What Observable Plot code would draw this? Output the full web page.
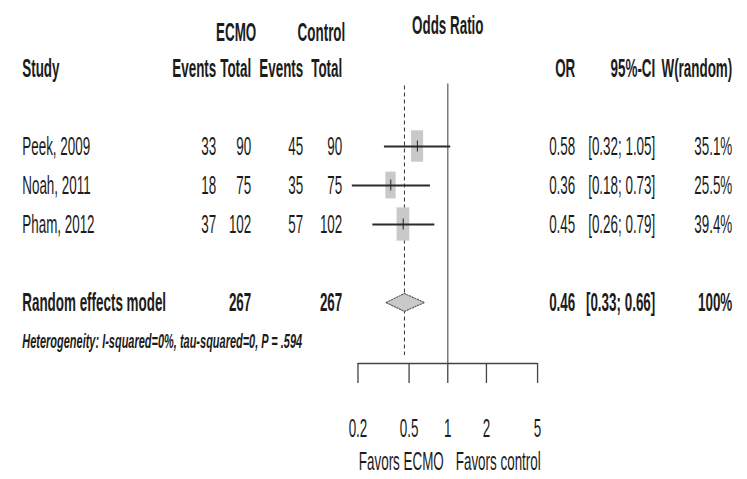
<!DOCTYPE html>
<html><head><meta charset="utf-8">
<script src="https://cdn.jsdelivr.net/npm/d3@7"></script>
<script src="https://cdn.jsdelivr.net/npm/@observablehq/plot@0.6"></script>
<style>
body{margin:0;background:#fff;}
#chart{position:relative;width:747px;height:479px;overflow:hidden;background:#fff;}
#chart svg{position:absolute;left:0;top:0;width:747px!important;height:479px!important;max-width:none!important;}
</style></head><body><div id="chart"></div>
<script>
// ---- data ----
const studies = ["Peek, 2009", "Noah, 2011", "Pham, 2012"];
const ecmoEvents = [33, 18, 37];
const ecmoTotal = [90, 75, 102];
const controlEvents = [45, 35, 57];
const controlTotal = [90, 75, 102];
const oddsRatio = [0.58, 0.36, 0.45];
const ciLower = [0.32, 0.18, 0.26];
const ciUpper = [1.05, 0.73, 0.79];
const weights = [35.1, 25.5, 39.4];

const pooledLabel = "Random effects model";
const pooledEcmoTotal = 267;
const pooledControlTotal = 267;
const pooledOR = 0.46;
const pooledLower = 0.33;
const pooledUpper = 0.66;
const pooledWeight = "100%";
const heterogeneity = "Heterogeneity: I-squared=0%, tau-squared=0, P = .594";

const groupHeaders = ["ECMO", "Control"];
const columnHeaders = ["Study", "Events", "Total", "Events", "Total", "OR", "95%-CI", "W(random)"];
const effectLabel = "Odds Ratio";
const axisTicks = [0.2, 0.5, 1, 2, 5];
const axisTickLabels = ["0.2", "0.5", "1", "2", "5"];
const favorsLabels = ["Favors ECMO", "Favors control"];

// ---- layout ----
const OUT_W = 747, H = 479, FS = 25, S = 13.42 / FS, W = OUT_W / S;
const FONT = "Liberation Sans, Arial, Helvetica, sans-serif";
const INK = "#1c1c1c";
const YMAX = (363 - 29) / 39;
const yScale = {domain: [0, YMAX], range: [29, 363], axis: null};
const studyRow = i => 3 + i;
const pooledRow = 7, hetRow = 8;
const tickRow = (428 - 29) / 39, favorsRow = (461 - 29) / 39, tickEnd = (383 - 29) / 39;
// right edges of table columns (output px)
const colRight = [216, 251, 303, 342, 575, 655, 732];
const studyLeft = 22;

const fmt2 = v => v.toFixed(2);
const ci = (lo, hi) => `[${fmt2(lo)}; ${fmt2(hi)}]`;

// table cells
const regular = [];
const bold = [];
studies.forEach((s, i) => {
  const r = studyRow(i);
  const vals = [ecmoEvents[i], ecmoTotal[i], controlEvents[i], controlTotal[i],
    fmt2(oddsRatio[i]), ci(ciLower[i], ciUpper[i]), weights[i].toFixed(1) + "%"];
  vals.forEach((v, j) => regular.push({x: colRight[j], y: r, text: String(v)}));
});
columnHeaders.slice(1).forEach((h, j) => bold.push({x: colRight[j], y: 1, text: h}));
[[1, pooledEcmoTotal], [3, pooledControlTotal], [4, fmt2(pooledOR)],
 [5, ci(pooledLower, pooledUpper)], [6, pooledWeight]].forEach(([j, v]) =>
  bold.push({x: colRight[j], y: pooledRow, text: String(v)}));
const groupCells = [{x: 256, y: 0, text: groupHeaders[0]}, {x: 345, y: 0, text: groupHeaders[1]}];
const leftBold = [{x: studyLeft, y: 1, text: columnHeaders[0]}, {x: studyLeft, y: pooledRow, text: pooledLabel}];
const leftRegular = studies.map((s, i) => ({x: studyLeft, y: studyRow(i), text: s}));

const common = {width: W, height: H, marginTop: 0, marginLeft: 0, marginRight: 0};

const table = Plot.plot({
  ...common, marginBottom: 0,
  style: {fontFamily: FONT, fontSize: FS + "px", color: INK, background: "transparent"},
  x: {type: "linear", domain: [0, OUT_W], range: [0, W], axis: null},
  y: yScale,
  marks: [
    Plot.text(regular, {x: "x", y: "y", text: "text", textAnchor: "end", fontSize: FS, fill: INK}),
    Plot.text(bold, {x: "x", y: "y", text: "text", textAnchor: "end", fontSize: FS, fontWeight: "bold", fill: INK}),
    Plot.text(groupCells, {x: "x", y: "y", text: "text", textAnchor: "end", fontSize: FS, fontWeight: "bold", fill: INK, dy: 3}),
    Plot.text(leftRegular, {x: "x", y: "y", text: "text", textAnchor: "start", fontSize: FS, fill: INK}),
    Plot.text(leftBold, {x: "x", y: "y", text: "text", textAnchor: "start", fontSize: FS, fontWeight: "bold", fill: INK}),
    Plot.text([heterogeneity], {x: studyLeft, y: hetRow, text: d => d, textAnchor: "start", fontSize: 10.98 / S, fontWeight: "bold", fontStyle: "italic", fill: INK})
  ]
});

const K = 0.0079, HH = 0.068;
const studyData = studies.map((s, i) => ({
  study: s, row: studyRow(i), or: oddsRatio[i], lo: ciLower[i], hi: ciUpper[i], w: weights[i]
}));
const dh = 0.23;
const diamond = [
  {x: pooledLower, y: pooledRow}, {x: pooledOR, y: pooledRow - dh},
  {x: pooledUpper, y: pooledRow}, {x: pooledOR, y: pooledRow + dh},
  {x: pooledLower, y: pooledRow}
];

const forest = Plot.plot({
  ...common, marginBottom: H - 363,
  style: {fontFamily: FONT, fontSize: FS + "px", color: INK, background: "transparent"},
  x: {type: "log", domain: [0.2, 5], range: [357.7 / S, 537.3 / S], axis: null},
  y: yScale,
  marks: [
    Plot.ruleX([1], {y1: 1.4, y2: YMAX, stroke: "#7a7a7a", strokeWidth: 1.5 / S}),
    Plot.ruleX([pooledOR], {y1: 1.45, y2: 8.36, stroke: "#333", strokeWidth: 1 / S, strokeDasharray: "4,3"}),
    Plot.rect(studyData, {
      x1: d => d.or * Math.pow(10, -K * Math.sqrt(d.w)),
      x2: d => d.or * Math.pow(10, K * Math.sqrt(d.w)),
      y1: d => d.row - HH * Math.sqrt(d.w),
      y2: d => d.row + HH * Math.sqrt(d.w),
      fill: "#c9c9c9"
    }),
    Plot.ruleY(studyData, {y: "row", x1: "lo", x2: "hi", stroke: "#2a2a2a", strokeWidth: 2}),
    Plot.ruleX(studyData, {x: "or", y1: d => d.row - 0.14, y2: d => d.row + 0.14, stroke: "#222", strokeWidth: 1 / S}),
    Plot.line(diamond, {x: "x", y: "y", fill: "#c9c9c9", stroke: "#555", strokeWidth: 1.2, strokeDasharray: "3,2"}),
    // axis
    Plot.ruleY([YMAX], {x1: axisTicks[0], x2: axisTicks[axisTicks.length - 1], stroke: "#444", strokeWidth: 1.6}),
    Plot.ruleX(axisTicks, {x: d => d, y1: YMAX, y2: tickEnd, stroke: "#444", strokeWidth: 1.3 / S}),
    Plot.text(axisTicks, {x: d => d, y: tickRow, text: (d, i) => axisTickLabels[i], fontSize: FS, fill: INK}),
    Plot.text([effectLabel], {x: 1, y: 0, text: d => d, fontSize: FS, fontWeight: "bold", fill: INK, dy: -4}),
    Plot.text([favorsLabels[0]], {x: 1, y: favorsRow, text: d => d, textAnchor: "end", dx: -4 / S, fontSize: FS, fill: INK}),
    Plot.text([favorsLabels[1]], {x: 1, y: favorsRow, text: d => d, textAnchor: "start", dx: 8 / S, fontSize: FS, fill: INK})
  ]
});

const host = document.getElementById("chart");
for (const svg of [forest, table]) {
  svg.setAttribute("viewBox", `0 0 ${W} ${H}`);
  svg.setAttribute("preserveAspectRatio", "none");
  svg.setAttribute("width", OUT_W);
  svg.setAttribute("height", H);
  host.appendChild(svg);
}
</script></body></html>
